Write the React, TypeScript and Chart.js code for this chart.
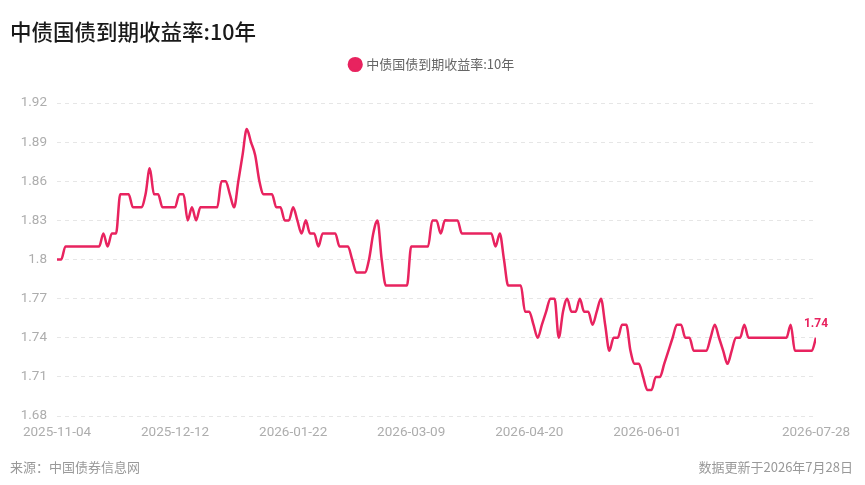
import { useEffect, useRef } from 'react';
import { Chart, registerables } from 'chart.js';

Chart.register(...registerables);

const seriesName = '中债国债到期收益率:10年';

// daily yield (%), one value per trading day
const yields = [
  1.80, 1.80, 1.81, 1.81, 1.81, 1.81, 1.81, 1.81, 1.81, 1.81,
  1.81, 1.82, 1.81, 1.82, 1.82, 1.85, 1.85, 1.85, 1.84, 1.84,
  1.84, 1.85, 1.87, 1.85, 1.85, 1.84, 1.84, 1.84, 1.84, 1.85,
  1.85, 1.83, 1.84, 1.83, 1.84, 1.84, 1.84, 1.84, 1.84, 1.86,
  1.86, 1.85, 1.84, 1.86, 1.88, 1.90, 1.89, 1.88, 1.86, 1.85,
  1.85, 1.85, 1.84, 1.84, 1.83, 1.83, 1.84, 1.83, 1.82, 1.83,
  1.82, 1.82, 1.81, 1.82, 1.82, 1.82, 1.82, 1.81, 1.81, 1.81,
  1.80, 1.79, 1.79, 1.79, 1.80, 1.82, 1.83, 1.80, 1.78, 1.78,
  1.78, 1.78, 1.78, 1.78, 1.81, 1.81, 1.81, 1.81, 1.81, 1.83,
  1.83, 1.82, 1.83, 1.83, 1.83, 1.83, 1.82, 1.82, 1.82, 1.82,
  1.82, 1.82, 1.82, 1.82, 1.81, 1.82, 1.80, 1.78, 1.78, 1.78,
  1.78, 1.76, 1.76, 1.75, 1.74, 1.75, 1.76, 1.77, 1.77, 1.74,
  1.76, 1.77, 1.76, 1.76, 1.77, 1.76, 1.76, 1.75, 1.76, 1.77,
  1.75, 1.73, 1.74, 1.74, 1.75, 1.75, 1.73, 1.72, 1.72, 1.71,
  1.70, 1.70, 1.71, 1.71, 1.72, 1.73, 1.74, 1.75, 1.75, 1.74,
  1.74, 1.73, 1.73, 1.73, 1.73, 1.74, 1.75, 1.74, 1.73, 1.72,
  1.73, 1.74, 1.74, 1.75, 1.74, 1.74, 1.74, 1.74, 1.74, 1.74,
  1.74, 1.74, 1.74, 1.74, 1.75, 1.73, 1.73, 1.73, 1.73, 1.73,
  1.74,
];

const xTickIndex = [0, 28, 56, 84, 112, 140, 180];
const xTickLabels = ['2025-11-04', '2025-12-12', '2026-01-22', '2026-03-09', '2026-04-20', '2026-06-01', '2026-07-28'];
const yTicks = [1.68, 1.71, 1.74, 1.77, 1.8, 1.83, 1.86, 1.89, 1.92];

const PINK = '#e8235f';
const TICK_COLOR = '#adadad';
const TICK_FONT = { family: 'Roboto, "DejaVu Sans", sans-serif', size: 13.5 };
const CJK = '"Noto Sans CJK SC", sans-serif';

// push the plot down a bit below the legend
const legendGap = {
  id: 'legendGap',
  beforeInit(chart: any) {
    const fit = chart.legend.fit;
    chart.legend.fit = function () {
      fit.call(this);
      this.height += 22;
    };
  },
};

// value tag over the last point
const lastValueLabel = {
  id: 'lastValueLabel',
  afterDatasetsDraw(chart: any) {
    const meta = chart.getDatasetMeta(0);
    const pt = meta.data[meta.data.length - 1];
    if (!pt) return;
    const ctx = chart.ctx;
    ctx.save();
    ctx.font = 'bold 12px Roboto, sans-serif';
    ctx.fillStyle = PINK;
    ctx.textAlign = 'center';
    ctx.textBaseline = 'middle';
    ctx.fillText(yields[yields.length - 1].toFixed(2), pt.x, pt.y - 14);
    ctx.restore();
  },
};

function YieldChart() {
  const canvasRef = useRef<HTMLCanvasElement>(null);
  const chartRef = useRef<Chart | null>(null);

  useEffect(() => {
    if (!canvasRef.current) return;
    if (chartRef.current) chartRef.current.destroy();

    chartRef.current = new Chart(canvasRef.current, {
      type: 'line',
      data: {
        datasets: [
          {
            label: seriesName,
            data: yields.map((v, i) => ({ x: i, y: v })),
            borderColor: PINK,
            backgroundColor: PINK,
            borderWidth: 2.5,
            pointRadius: 0,
            cubicInterpolationMode: 'monotone',
            yAxisID: 'y',
          },
        ],
      },
      options: {
        responsive: false,
        animation: false,
        layout: { padding: { top: 48, left: 0, right: 0, bottom: 39 } },
        plugins: {
          legend: {
            position: 'top',
            labels: {
              usePointStyle: true,
              pointStyle: 'circle',
              boxWidth: 9,
              boxHeight: 9,
              padding: 10,
              color: '#666',
              font: { family: CJK, size: 13 },
            },
          },
          tooltip: { enabled: false },
        },
        scales: {
          x: {
            type: 'linear',
            min: 0,
            max: yields.length - 1,
            afterBuildTicks: (s: any) => {
              s.ticks = xTickIndex.map((v) => ({ value: v }));
            },
            afterFit: (s: any) => {
              s.height = 30;
            },
            ticks: {
              autoSkip: false,
              maxRotation: 0,
              padding: 1,
              color: TICK_COLOR,
              font: TICK_FONT,
              callback: (v: any) => xTickLabels[xTickIndex.indexOf(v)] ?? '',
            },
            grid: { display: false },
            border: { display: false },
          },
          y: {
            min: 1.68,
            max: 1.92,
            afterBuildTicks: (s: any) => {
              s.ticks = yTicks.map((v) => ({ value: v }));
            },
            afterFit: (s: any) => {
              s.width = 57;
            },
            ticks: {
              padding: 10,
              color: TICK_COLOR,
              font: TICK_FONT,
              callback: (v: any) => String(v),
            },
            grid: { color: '#e6e6e6', lineWidth: 1, drawTicks: false },
            border: { display: false, dash: [4, 4] },
          },
          // empty right-hand axis: reserves the margin right of the plot
          yRight: {
            position: 'right',
            min: 1.68,
            max: 1.92,
            afterFit: (s: any) => {
              s.width = 49;
            },
            ticks: { display: false },
            grid: { display: false, drawTicks: false },
            border: { display: false },
          },
        },
      },
      plugins: [legendGap, lastValueLabel],
    });

    return () => {
      if (chartRef.current) {
        chartRef.current.destroy();
        chartRef.current = null;
      }
    };
  }, []);

  return <canvas ref={canvasRef} width={865} height={485} style={{ position: 'absolute', left: 0, top: 0, width: 865, height: 485 }} />;
}

export default function App() {
  return (
    <div style={{ position: 'fixed', left: 0, top: 0, width: 865, height: 485, background: '#fff', overflow: 'hidden' }}>
      <YieldChart />
      <div
        style={{
          position: 'absolute',
          left: 10,
          top: 18,
          fontFamily: CJK,
          fontSize: 21.5,
          lineHeight: '25px',
          fontWeight: 500,
          color: '#1a1a1a',
        }}
      >
        {seriesName}
      </div>
      <div style={{ position: 'absolute', left: 10, top: 458, fontFamily: CJK, fontSize: 13, lineHeight: '17px', color: '#999' }}>
        来源：中国债券信息网
      </div>
      <div style={{ position: 'absolute', right: 12, top: 458, fontFamily: CJK, fontSize: 13, lineHeight: '17px', color: '#999' }}>
        数据更新于2026年7月28日
      </div>
    </div>
  );
}
